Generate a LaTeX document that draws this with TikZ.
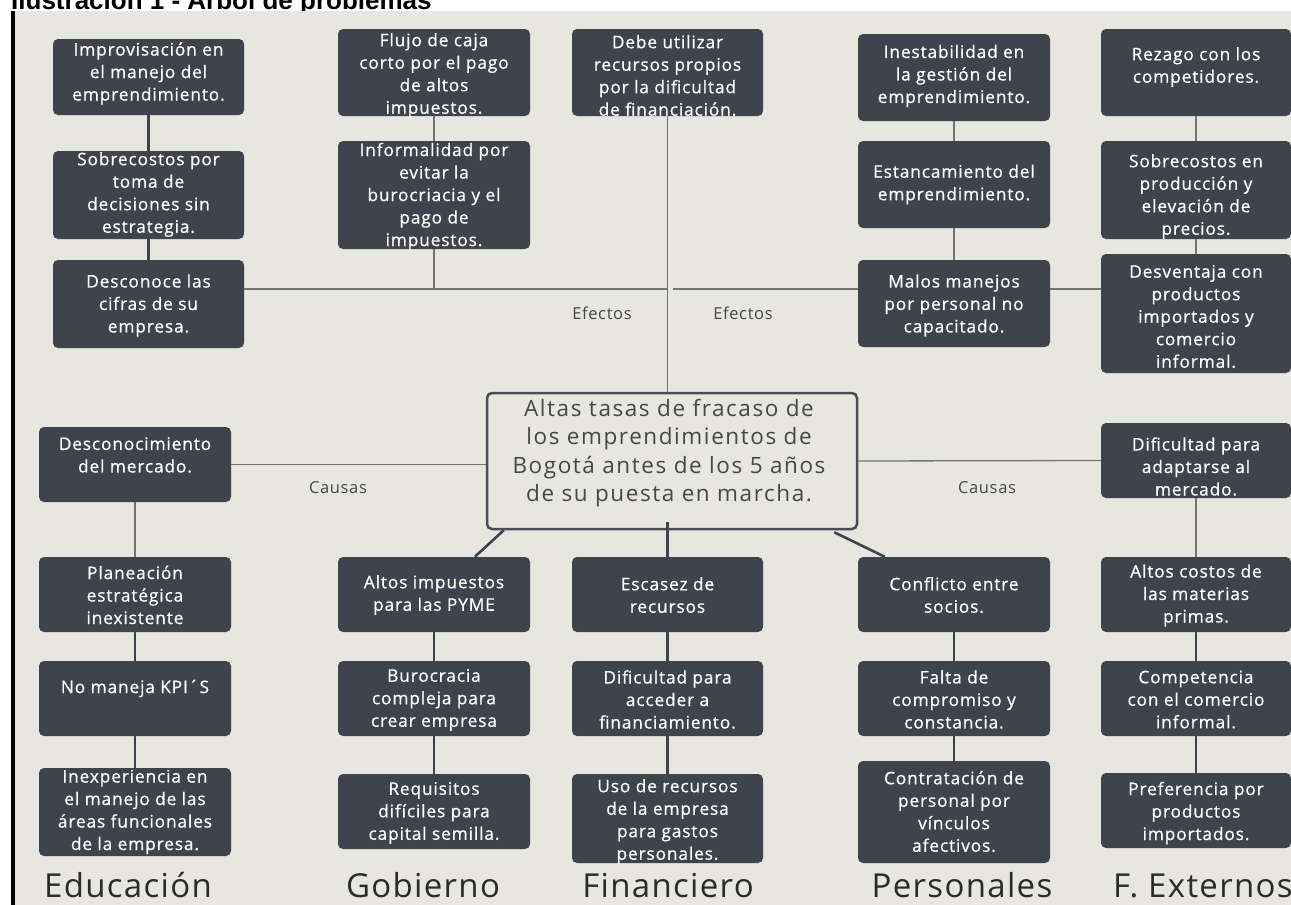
\documentclass[tikz,border=0pt]{standalone}
\usepackage{fontspec}
\setmainfont{Open Sans}
\newfontfamily\bxfont[LetterSpace=5,FakeBold=0.7]{Open Sans}
\newfontfamily\cenfont[LetterSpace=7]{Open Sans}
\newfontfamily\catfont[LetterSpace=4]{Open Sans}
\newfontfamily\ttlfont{Liberation Sans}
\usetikzlibrary{calc}
\definecolor{bgc}{HTML}{E7E6DF}
\definecolor{boxc}{HTML}{3E434E}
\definecolor{thinc}{HTML}{737373}
\definecolor{cenc}{HTML}{4A4D55}
\definecolor{txtc}{HTML}{474747}
\definecolor{catc}{HTML}{2B2B2B}
\tikzset{
  pbox/.style={rectangle, rounded corners=5pt, fill=boxc, inner sep=0pt, draw=none},
  ptxt/.style={text=white, align=center, inner sep=0pt, font=\bxfont\fontsize{17.3}{22.5}\selectfont},
  cbox/.style={rectangle, rounded corners=5pt, draw=cenc, line width=2.5pt, fill=bgc, inner sep=0pt},
  ctxt/.style={text=txtc, align=center, inner sep=0pt, font=\cenfont\fontsize{22.5}{28.5}\selectfont},
  lbl/.style={text=txtc, inner sep=0pt, font=\catfont\fontsize{16.5}{20}\selectfont},
  cat/.style={text=catc, inner sep=0pt, anchor=base, font=\catfont\fontsize{33}{38}\selectfont},
  thn/.style={draw=thinc, line width=1.3pt},
  dk/.style={draw=boxc, line width=2.6pt}
}
\newcommand{\mybox}[7]{%
  \pgfmathsetmacro{\bcx}{(#2+#4)/2}%
  \pgfmathsetmacro{\bcy}{(#3+#5)/2}%
  \pgfmathsetmacro{\bw}{#4-#2}%
  \pgfmathsetmacro{\bh}{#5-#3}%
  \pgfmathsetmacro{\bty}{#6+1.5}%
  \node[pbox, minimum width=\bw pt, minimum height=\bh pt] (#1) at (\bcx,\bcy) {};%
  \node[ptxt] (#1-t) at (\bcx,\bty) {#7};%
}
\begin{document}
\begin{tikzpicture}[x=1pt,y=-1pt]
\useasboundingbox (0,0) rectangle (1291,905);
\fill[white] (0,0) rectangle (1291,905);
\node[anchor=base west, inner sep=0pt, font=\ttlfont\bfseries\fontsize{26}{30}\selectfont] (ttl) at (11,9) {Ilustración 1 - Árbol de problemas};
\fill[bgc] (11,11) rectangle (1291,905);
\fill[black] (11,11) rectangle (15,905);

% effects
\mybox{e1}{53}{39}{244}{115}{72}{Improvisación en\\el manejo del\\emprendimiento.}
\mybox{e2}{53}{151}{244}{239}{193}{Sobrecostos por\\toma de\\decisiones sin\\estrategia.}
\mybox{e3}{53}{260}{244}{348}{304}{Desconoce las\\cifras de su\\empresa.}
\mybox{g1}{338}{29}{530}{116}{74}{Flujo de caja\\corto por el pago\\de altos\\impuestos.}
\mybox{g2}{338}{141}{530}{249}{195}{Informalidad por\\evitar la\\burocriacia y el\\pago de\\impuestos.}
\mybox{f1}{572}{29}{763}{116}{74}{Debe utilizar\\recursos propios\\por la dificultad\\de financiación.}
\mybox{p1}{858}{34}{1050}{121}{74.5}{Inestabilidad en\\la gestión del\\emprendimiento.}
\mybox{p2}{858}{141}{1050}{228}{183}{Estancamiento del\\emprendimiento.}
\mybox{p3}{858}{260}{1050}{347}{304}{Malos manejos\\por personal no\\capacitado.}
\mybox{x1}{1101}{29}{1291}{116}{65.5}{Rezago con los\\competidores.}
\mybox{x2}{1101}{141}{1291}{239}{195}{Sobrecostos en\\producción y\\elevación de\\precios.}
\mybox{x3}{1101}{254}{1291}{373}{315}{Desventaja con\\productos\\importados y\\comercio\\informal.}

% central
\node[cbox, minimum width=370pt, minimum height=136pt] (cen) at (672,461) {};
\node[ctxt] (cen-t) at (669,453) {Altas tasas de fracaso de\\los emprendimientos de\\Bogotá antes de los 5 años\\de su puesta en marcha.};

% causes
\mybox{c1}{39}{427}{231}{502}{453.5}{Desconocimiento\\del mercado.}
\mybox{c2}{39}{557}{231}{632}{593.5}{Planeación\\estratégica\\inexistente}
\mybox{c3}{39}{661}{231}{736}{687}{No maneja KPI´S}
\mybox{c4}{39}{768}{231}{856}{810.5}{Inexperiencia en\\el manejo de las\\áreas funcionales\\de la empresa.}
\mybox{g3}{338}{557}{530}{632}{593.5}{Altos impuestos\\para las PYME}
\mybox{g4}{338}{661}{530}{736}{698.5}{Burocracia\\compleja para\\crear empresa}
\mybox{g5}{338}{774}{530}{849}{811.5}{Requisitos\\difíciles para\\capital semilla.}
\mybox{f2}{572}{557}{763}{632}{593.5}{Escasez de\\recursos}
\mybox{f3}{572}{661}{763}{736}{698}{Dificultad para\\acceder a\\financiamiento.}
\mybox{f4}{572}{774}{763}{863}{820}{Uso de recursos\\de la empresa\\para gastos\\personales.}
\mybox{p4}{858}{557}{1050}{632}{593.5}{Conflicto entre\\socios.}
\mybox{p5}{858}{661}{1050}{736}{698}{Falta de\\compromiso y\\constancia.}
\mybox{p6}{858}{761}{1050}{863}{810}{Contratación de\\personal por\\vínculos\\afectivos.}
\mybox{x4}{1101}{423}{1291}{498}{465}{Dificultad para\\adaptarse al\\mercado.}
\mybox{x5}{1101}{557}{1291}{632}{594}{Altos costos de\\las materias\\primas.}
\mybox{x6}{1101}{661}{1291}{736}{698}{Competencia\\con el comercio\\informal.}
\mybox{x7}{1101}{773}{1291}{848}{811.5}{Preferencia por\\productos\\importados.}

% labels
\node[lbl] (ef1) at (602,313) {Efectos};
\node[lbl] (ef2) at (743,313) {Efectos};
\node[lbl] (ca1) at (338,488) {Causas};
\node[lbl] (ca2) at (987,488) {Causas};
\node[cat] (k1) at (128,897) {Educación};
\node[cat] (k2) at (423,897) {Gobierno};
\node[cat] (k3) at (668,897) {Financiero};
\node[cat] (k4) at (962,897) {Personales};
\node[cat, anchor=base west] (k5) at (1113,897) {F. Externos};

% effect connectors
\coordinate (hl) at (0,289);
\draw[dk] (e1.south) -- (e2.north);
\draw[dk] (e2.south) -- (e3.north);
\draw[thn] (g1.south) -- (g2.north);
\draw[thn] (g2.south) -- (g2.south |- hl);
\draw[thn] (e3.east |- hl) -- (f1.south |- hl);
\draw[thn] ($(f1.south |- hl)+(5,0)$) -- (p3.west |- hl);
\draw[thn] (f1.south) -- (f1.south |- cen.north);
\draw[thn] (p1.south) -- (p2.north);
\draw[thn] (p2.south) -- (p3.north);
\draw[thn] (p3.east |- hl) -- (x3.west |- hl);
\draw[thn] (x1.south) -- (x2.north);
\draw[thn] (x2.south) -- (x3.north);

% cause connectors
\draw[thn] (c1.east) -- (c1.east -| cen.west);
\draw[thn] (c1.south) -- (c2.north);
\draw[dk] (c2.south) -- (c3.north);
\draw[dk] (c3.south) -- (c4.north);
\draw[dk] ($(cen.south west)+(18,0)$) -- ($(g3.north west)+(137,0)$);
\draw[dk] (g3.south) -- (g4.north);
\draw[dk] (g4.south) -- (g5.north);
\draw[dk] ($(f2.north |- cen.south)+(0,-8)$) -- (f2.north);
\draw[dk] (f2.south) -- (f3.north);
\draw[dk] (f3.south) -- (f4.north);
\draw[dk] ($(cen.south east)+(-24,2)$) -- ($(p4.north west)+(27,0)$);
\draw[dk] (p4.south) -- (p5.north);
\draw[dk] (p5.south) -- (p6.north);
\draw[thn] (cen.east) -- (x4.west);
\draw[thn] (x4.south) -- (x5.north);
\draw[dk] (x5.south) -- (x6.north);
\draw[dk] (x6.south) -- (x7.north);
\end{tikzpicture}
\end{document}
